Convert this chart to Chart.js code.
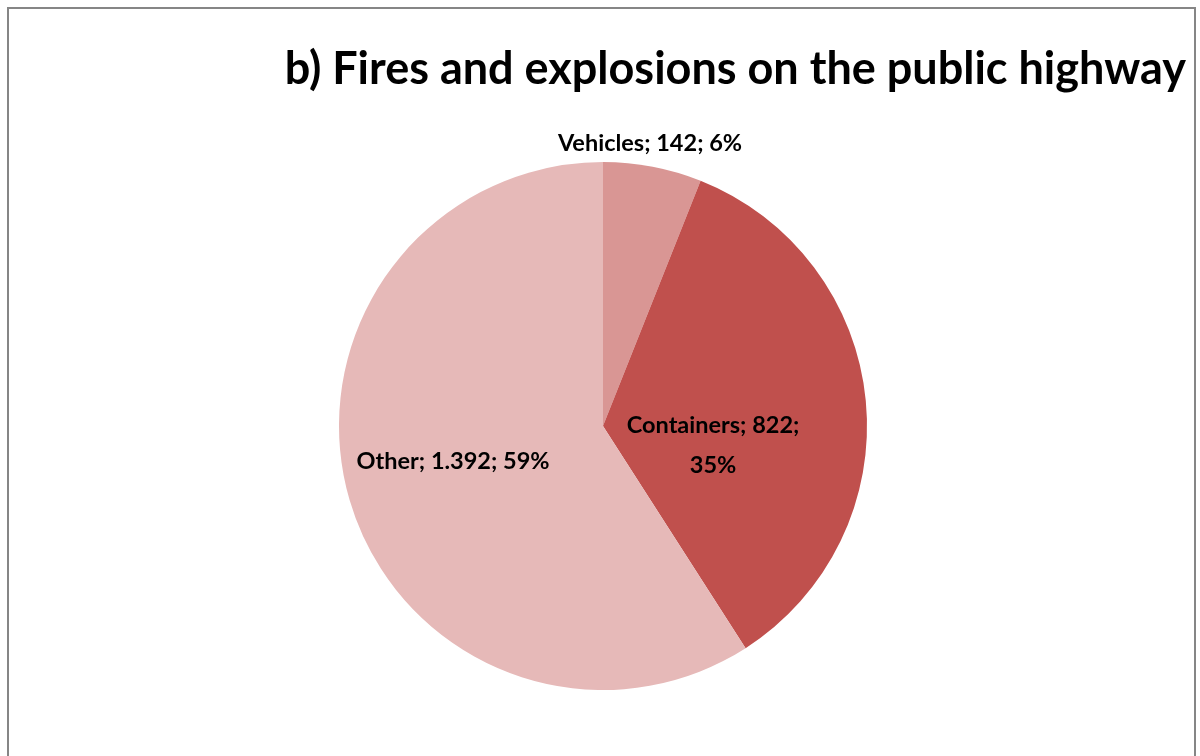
<!DOCTYPE html>
<html>
<head>
<meta charset="utf-8">
<script src="https://cdn.jsdelivr.net/npm/chart.js@4/dist/chart.umd.min.js"></script>
<style>
  html, body { margin: 0; padding: 0; background: #fff; overflow: hidden; }
  #frame {
    position: absolute; left: 7px; top: 7px; width: 1189px; height: 760px;
    border: 2px solid #868686; box-sizing: border-box; background: #fff;
  }
  #wrap { position: absolute; left: 0; top: 0; width: 1185px; height: 756px; }
</style>
</head>
<body>
<div id="frame"><div id="wrap"><canvas id="pie"></canvas></div></div>
<script>
const title = "b) Fires and explosions on the public highway";
const categories = ["Vehicles", "Containers", "Other"];
const counts = [142, 822, 1392];
const colors = ["#D99694", "#C0504D", "#E6B9B8"];

// label anchor per slice, in units of the pie radius from its centre
const labelAnchors = [
  { dx: 0.178, dy: -1.072, lines: 1 },
  { dx: 0.417, dy: 0.072, lines: 2 },
  { dx: -0.568, dy: 0.133, lines: 1 }
];

const total = counts.reduce((a, b) => a + b, 0);
const fmt = (n) => n.toLocaleString("de-DE");
const pct = (n) => Math.round(n / total * 100) + "%";

const titlePlugin = {
  id: "sideTitle",
  afterDraw(chart) {
    const ctx = chart.ctx;
    ctx.save();
    ctx.font = "bold 45px Lato";
    ctx.fillStyle = "#000";
    ctx.textAlign = "right";
    ctx.textBaseline = "alphabetic";
    ctx.fillText(title, chart.width - 8, 75);
    ctx.restore();
  }
};

const sliceLabels = {
  id: "sliceLabels",
  afterDatasetsDraw(chart) {
    const ctx = chart.ctx;
    const arc = chart.getDatasetMeta(0).data[0];
    const cx = arc.x, cy = arc.y, r = arc.outerRadius;
    ctx.save();
    ctx.font = "bold 23.5px Lato";
    ctx.fillStyle = "#000";
    ctx.textAlign = "center";
    ctx.textBaseline = "middle";
    categories.forEach((name, i) => {
      const a = labelAnchors[i];
      const x = cx + a.dx * r, y = cy + a.dy * r;
      if (a.lines === 2) {
        ctx.fillText(name + "; " + fmt(counts[i]) + ";", x, y - 20);
        ctx.fillText(pct(counts[i]), x, y + 20);
      } else {
        ctx.fillText(name + "; " + fmt(counts[i]) + "; " + pct(counts[i]), x, y);
      }
    });
    ctx.restore();
  }
};

new Chart(document.getElementById("pie"), {
  type: "pie",
  data: {
    labels: categories,
    datasets: [{
      data: counts,
      backgroundColor: colors,
      borderWidth: 0
    }]
  },
  options: {
    responsive: true,
    maintainAspectRatio: false,
    animation: false,
    layout: { padding: { left: 330, right: 327, top: 153, bottom: 75 } },
    plugins: {
      legend: { display: false },
      tooltip: { enabled: false }
    }
  },
  plugins: [titlePlugin, sliceLabels]
});
</script>
</body>
</html>
